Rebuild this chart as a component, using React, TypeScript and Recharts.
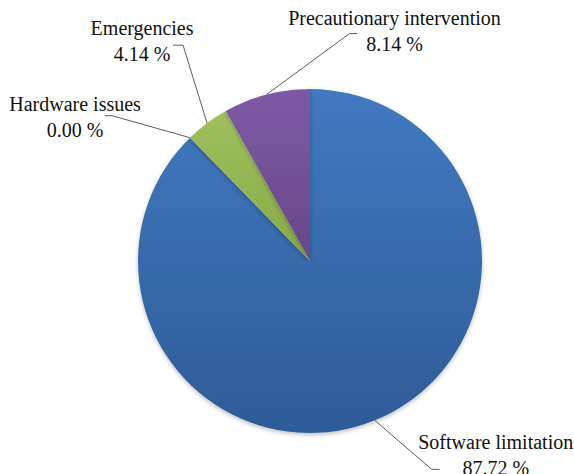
import React from 'react';
import { PieChart, Pie, Cell } from 'recharts';

const categories = ['Software limitation', 'Hardware issues', 'Emergencies', 'Precautionary intervention'];
const shares = [87.72, 0.0, 4.14, 8.14];

const data = categories.map((name, i) => ({ name, value: shares[i] }));

// gradient stops per slice (top -> bottom)
const fills = [
  ['#4079c0', '#2e5b97'],
  ['#4079c0', '#2e5b97'],
  ['#a0c05e', '#88a948'],
  ['#7d5aa5', '#684787'],
];

// leader line: elbow offset from the slice edge point, short horizontal run,
// and label anchor relative to the elbow
const labelLayout = [
  { ex: 57, ey: 49, run: 8, tx: 64, ty: -20 },
  { ex: -78, ey: -22, run: -7, tx: -37, ty: -5 },
  { ex: -24, ey: -78, run: -10, tx: -41, ty: -10 },
  { ex: 83, ey: -61, run: 8, tx: 45, ty: -9 },
];

const RADIAN = Math.PI / 180;
const FONT = "'Liberation Serif', 'Times New Roman', serif";

const renderLabel = (props: any) => {
  const { cx, cy, midAngle, outerRadius, index } = props;
  const lay = labelLayout[index];
  const sx = cx + outerRadius * Math.cos(-midAngle * RADIAN);
  const sy = cy + outerRadius * Math.sin(-midAngle * RADIAN);
  const mx = sx + lay.ex;
  const my = sy + lay.ey;
  const hx = mx + lay.run;
  const lx = mx + lay.tx;
  const ly = my + lay.ty;
  const txtStyle = { fontFamily: FONT, fontSize: 20, fill: '#111' };
  return (
    <g key={`lbl-${index}`}>
      <polyline
        points={`${sx},${sy} ${mx},${my} ${hx},${my}`}
        fill="none"
        stroke="#5f5f5f"
        strokeWidth={1}
      />
      <text x={lx} y={ly} textAnchor="middle" style={txtStyle}>
        {categories[index]}
      </text>
      <text x={lx} y={ly + 26} textAnchor="middle" style={txtStyle}>
        {`${shares[index].toFixed(2)} %`}
      </text>
    </g>
  );
};

export default function App() {
  return (
    <div style={{ position: 'absolute', left: 0, top: 0, width: 574, height: 474, background: '#fff' }}>
      <PieChart width={574} height={474} margin={{ top: 0, right: 0, bottom: 0, left: 0 }}>
        <defs>
          {fills.map((f, i) => (
            <linearGradient key={i} id={`slice${i}`} x1="0" y1="0" x2="0" y2="1">
              <stop offset="0%" stopColor={f[0]} />
              <stop offset="100%" stopColor={f[1]} />
            </linearGradient>
          ))}
          <filter id="pieShadow" x="-10%" y="-10%" width="120%" height="125%">
            <feDropShadow dx="0" dy="2" stdDeviation="2" floodColor="#000" floodOpacity="0.25" />
          </filter>
        </defs>
        <Pie
          data={data}
          dataKey="value"
          nameKey="name"
          cx={310}
          cy={261}
          outerRadius={172}
          startAngle={90}
          endAngle={-270}
          stroke="none"
          label={renderLabel}
          labelLine={false}
          isAnimationActive={false}
          style={{ filter: 'url(#pieShadow)' }}
        >
          {data.map((d, i) => (
            <Cell key={d.name} fill={`url(#slice${i})`} stroke="none" />
          ))}
        </Pie>
      </PieChart>
    </div>
  );
}
